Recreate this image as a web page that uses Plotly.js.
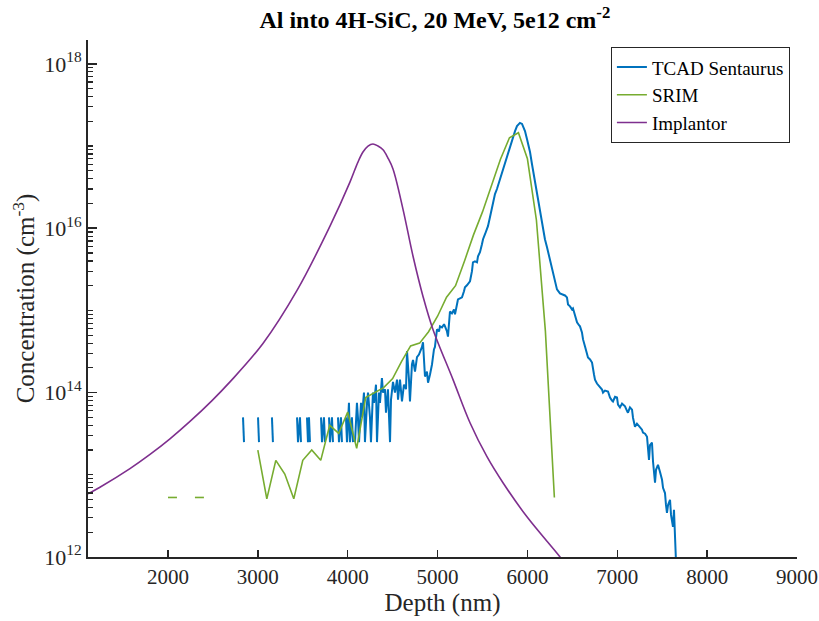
<!DOCTYPE html>
<html>
<head>
<meta charset="utf-8">
<script src="https://cdn.plot.ly/plotly-3.0.1.min.js"></script>
<style>html,body{margin:0;padding:0;background:#fff}#chart{width:819px;height:621px}</style>
</head>
<body>
<div id="chart"></div>
<script>
// ---- Data (depth in nm, concentration in cm^-3) ----
// TCAD Sentaurus (null = zero concentration, not drawn on log axis)
const tcadDepth = [
  2835, 2846, null,
  3002, 3013, null,
  3157, 3168, null,
  3436, 3447, 3469, 3480, null,
  3547, 3558, 3569, 3580, null,
  3703, 3714, 3736, 3747, null,
  3792, 3803, 3825, 3836, null,
  3892, 3903, 3925, 3936, null,
  3981, 3992, 4014, 4025, 4047, 4059, null,
  4081, 4103, 4114, 4126, 4148, 4159, 4181, 4192, 4215, 4226,
  4248, 4259, 4281, 4293, 4315, 4326, 4348, 4359, 4381, 4393,
  4415, 4426, 4448, 4471, 4482, 4504, 4526, 4549, 4560, 4582,
  4604, 4626, 4649, 4660, 4682, 4693, 4715, 4727, 4749, 4771,
  4793, 4805, 4827, 4838, 4860, 4882, 4894, 4916, 4938, 4960,
  4971, 4983, 4994, 5016, 5027, 5049, 5072, 5083, 5105, 5116,
  5138, 5160, 5183, 5194, 5216, 5227, 5250, 5272, 5294, 5305,
  5327, 5361, 5383, 5394, 5416, 5439, 5450, 5472, 5494, 5506,
  5528, 5561, 5583, 5617, 5639, 5661, 5695, 5728, 5750, 5773,
  5806, 5828, 5862, 5884, 5906, 5917, 5940, 5973, 5995, 6029,
  6051, 6084, 6106, 6140, 6162, 6195, 6218, 6251, 6273, 6307,
  6329, 6362, 6385, 6418, 6440, 6452, 6474, 6496, 6507, 6530,
  6552, 6574, 6585, 6607, 6619, 6641, 6674, 6697, 6719, 6741,
  6752, 6774, 6808, 6830, 6841, 6863, 6897, 6919, 6941, 6952,
  6975, 6997, 7008, 7030, 7053, 7086, 7108, 7119, 7141, 7164,
  7175, 7197, 7219, 7253, 7275, 7286, 7309, 7331, 7342, 7353,
  7364, 7386, 7398, 7420, 7431, 7453, 7475, 7498, 7509, 7531,
  7542, 7553, 7565, 7587, 7598, 7620, 7631, 7642, 7653
];
const tcadConc = [
  5e13, 2.5e13, null,
  5e13, 2.5e13, null,
  5e13, 2.5e13, null,
  5e13, 2.5e13, 5e13, 2.5e13, null,
  5e13, 2.5e13, 5e13, 2.5e13, null,
  5e13, 2.5e13, 5e13, 2.5e13, null,
  5e13, 2.5e13, 5e13, 2.5e13, null,
  5e13, 2.5e13, 5e13, 2.5e13, null,
  5e13, 2.5e13, 7.5e13, 2.5e13, 5e13, 2.5e13, null,
  2.5e13, 7.5e13, 5e13, 2.5e13, 7.5e13, 5e13, 1e14, 2.5e13, 7.5e13, 1e14,
  5e13, 2.5e13, 1e14, 7.5e13, 1.25e14, 2.5e13, 1e14, 7.5e13, 1.5e14, 1e14,
  1.1e14, 5.7e13, 1.1e14, 2.5e13, 8.2e13, 1.35e14, 1e14, 1.44e14, 8.2e13, 1.44e14,
  7.8e13, 1.25e14, 1.1e14, 3.2e14, 1.44e14, 7.8e13, 2.2e14, 2.5e14, 1.8e14, 2.7e14,
  2.9e14, 3.1e14, 3.6e14, 4.1e14, 1.57e14, 1.8e14, 1.32e14, 1.66e14, 2.2e14, 3.35e14,
  3.6e14, 4.7e14, 5.9e14, 5.55e14, 6.4e14, 6.2e14, 6.8e14, 6.4e14, 5.55e14, 4.8e14,
  9.7e14, 9.2e14, 1.03e15, 8.95e14, 1.25e15, 1.36e15, 1.4e15, 1.44e15, 1.71e15, 1.91e15,
  2.02e15, 2.26e15, 3.0e15, 3.85e15, 3.96e15, 3.85e15, 4.56e15, 5.1e15, 6.4e15, 7.35e15,
  8.45e15, 1.06e16, 1.36e16, 2.08e16, 2.6e16, 3.0e16, 3.96e16, 5.25e16, 6.4e16, 7.55e16,
  1.0e17, 1.22e17, 1.52e17, 1.75e17, 1.86e17, 1.91e17, 1.86e17, 1.52e17, 1.22e17, 8.45e16,
  6.0e16, 3.64e16, 2.6e16, 1.57e16, 1.12e16, 7.35e15, 5.87e15, 4.19e15, 3.16e15, 2.26e15,
  1.8e15, 1.61e15, 1.57e15, 1.52e15, 1.44e15, 1.18e15, 1.12e15, 1.03e15, 1.06e15, 8.7e14,
  7.15e14, 6.6e14, 6.4e14, 5.4e14, 4.44e14, 3.64e14, 2.67e14, 2.53e14, 2.32e14, 1.66e14,
  1.44e14, 1.29e14, 1.18e14, 1.09e14, 1.0e14, 1.06e14, 1.03e14, 8.7e13, 8.0e13, 7.8e13,
  8.9e13, 8.7e13, 7.15e13, 6.6e13, 7.35e13, 6.8e13, 6.0e13, 5.7e13, 6.6e13, 6.2e13,
  4.95e13, 3.85e13, 4.2e13, 3.85e13, 3.54e13, 3.26e13, 3.16e13, 2.9e13, 1.75e13, 1.52e13,
  2.3e13, 2.46e13, 1.44e13, 8.0e12, 1.15e13, 1.32e13, 1.09e13, 8.7e12, 6.95e12, 6.0e12,
  4.3e12, 3.44e12, 4.3e12, 4.95e12, 3.25e12, 2.32e12, 3.74e12, 1.61e12, 9e11
];

// SRIM (100 nm bins)
const srimDepth = [
  2000, 2100, 2200, 2300, 2400, 2500, 2600, 2700, 2800, 2900,
  3000, 3100, 3200, 3300, 3400, 3500, 3600, 3700, 3800, 3900,
  4000, 4100, 4200, 4300, 4400, 4500, 4600, 4700, 4800, 4900,
  5000, 5100, 5200, 5300, 5400, 5500, 5600, 5700, 5800, 5900,
  6000, 6100, 6200, 6300
];
const srimConc = [
  5.3e12, 5.3e12, null, 5.3e12, 5.3e12, null, null, null, null, null,
  2.0e13, 5.1e12, 1.5e13, 1.02e13, 5.1e12, 1.5e13, 2.0e13, 1.5e13, 4.0e13, 3.2e13,
  5.8e13, 2.1e13, 8.7e13, 1.0e14, 1.15e14, 1.48e14, 2.4e14, 3.7e14, 4.0e14, 5.5e14,
  8.5e14, 1.45e15, 2.0e15, 4.0e15, 8.3e15, 1.58e16, 3.2e16, 6.9e16, 1.26e17, 1.45e17,
  7.0e16, 1.26e16, 5.6e14, 5.3e12
];

// Implantor
const implDepth = [
  1110, 1243, 1577, 1800, 2022, 2245, 2490, 2690, 3057, 3436,
  3803, 4025, 4114, 4170, 4226, 4281, 4337, 4393, 4448, 4504,
  4615, 4727, 4838, 4949, 5172, 5361, 5550, 5728, 5995, 6363,
  6474
];
const implConc = [
  5.87e12, 7.06e12, 1.19e13, 1.77e13, 2.74e13, 4.46e13, 8.0e13, 1.35e14, 3.96e14, 1.75e15,
  1.06e16, 3.64e16, 6.38e16, 8.45e16, 1.0e17, 1.06e17, 1.0e17, 9.0e16, 7.15e16, 5.25e16,
  1.71e16, 4.56e15, 1.48e15, 5.87e14, 1.44e14, 4.3e13, 1.66e13, 8.0e12, 3.08e12, 1.0e12,
  6.9e11
];

const seriesNames = ['TCAD Sentaurus', 'SRIM', 'Implantor'];
const xTickVals = [2000, 3000, 4000, 5000, 6000, 7000, 8000, 9000];
const yTickVals = [1e12, 1e14, 1e16, 1e18];
const yTickText = ['10<sup>12</sup>', '10<sup>14</sup>', '10<sup>16</sup>', '10<sup>18</sup>'];

// minor tick positions for log axis
const minorVals = [];
for (let d = 12; d <= 18; d++) {
  for (let k = 1; k <= 9; k++) minorVals.push(k * Math.pow(10, d));
}

const FONT = 'Liberation Serif, Times New Roman, serif';
const AX = '#262626';

const traces = [
  {x: tcadDepth, y: tcadConc, name: seriesNames[0], mode: 'lines', connectgaps: false,
   line: {color: '#0072BD', width: 2}},
  {x: srimDepth, y: srimConc, name: seriesNames[1], mode: 'lines', connectgaps: false,
   line: {color: '#77AC30', width: 1.6}},
  {x: implDepth, y: implConc, name: seriesNames[2], mode: 'lines',
   line: {color: '#7E2F8E', width: 1.6, shape: 'spline', smoothing: 1}}
];

const layout = {
  width: 819, height: 621,
  margin: {l: 88, r: 22, t: 40, b: 64},
  paper_bgcolor: '#fff', plot_bgcolor: '#fff',
  font: {family: FONT, color: AX, size: 20},
  title: {text: '<b>Al into 4H-SiC, 20 MeV, 5e12 cm<sup>-2</sup></b>', x: 0.531, xanchor: 'center',
          y: 0.969, yanchor: 'middle', yref: 'container', font: {family: FONT, size: 24, color: '#000'}},
  showlegend: true,
  legend: {x: 0.990, xanchor: 'right', y: 0.986, yanchor: 'top', bgcolor: '#fff',
           bordercolor: AX, borderwidth: 1, font: {family: FONT, size: 19, color: '#000'},
           tracegroupgap: 0, itemwidth: 30},
  xaxis: {
    range: [1110, 9000], tickvals: xTickVals, ticks: 'inside', ticklen: 7, tickwidth: 1.5,
    tickcolor: AX, showline: true, linecolor: AX, linewidth: 2, mirror: false,
    showgrid: false, zeroline: false, tickfont: {family: FONT, size: 21, color: AX},
    title: {text: 'Depth (nm)', font: {family: FONT, size: 25, color: AX}, standoff: 4}
  },
  yaxis: {
    type: 'log', range: [12, 18.29], tickvals: yTickVals, ticktext: yTickText,
    ticks: 'inside', ticklen: 9, tickwidth: 1.5, tickcolor: AX,
    minor: {tickmode: 'array', tickvals: minorVals, ticks: 'inside', ticklen: 5, tickwidth: 1.2, tickcolor: AX, showgrid: false},
    showline: true, linecolor: AX, linewidth: 2, mirror: false,
    showgrid: false, zeroline: false, tickfont: {family: FONT, size: 22, color: AX},
    title: {text: 'Concentration (cm<sup>-3</sup>)', font: {family: FONT, size: 25, color: AX}, standoff: 2}
  }
};

Plotly.newPlot('chart', traces, layout, {displayModeBar: false, staticPlot: true});
</script>
</body>
</html>
